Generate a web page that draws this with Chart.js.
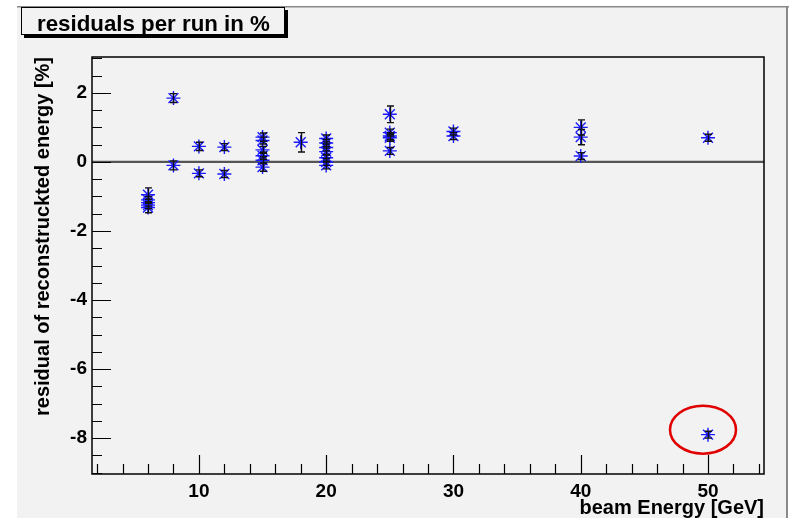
<!DOCTYPE html>
<html>
<head>
  <title>residuals per run in %</title>
  <script src="https://cdn.jsdelivr.net/npm/chart.js@4.4.0/dist/chart.umd.min.js"></script>
  <style>
    body { margin: 0; background: #fff; }
  </style>
</head>
<body>
<canvas id="myChart" width="793" height="518"></canvas>

<script>
  // one entry per run: beam energy [GeV], residual [%], error [%]
  const energies = [6, 6, 6, 6, 6, 8, 8, 10, 10, 12, 12,
                    15, 15, 15, 15, 15, 15, 18,
                    20, 20, 20, 20, 20, 20, 20,
                    25, 25, 25, 25, 25, 30, 30, 40, 40, 40, 50, 50];
  const residuals = [-0.95, -1.1, -1.18, -1.25, -1.32, 1.85, -0.1, 0.45, -0.33, 0.43, -0.35,
                     0.72, 0.62, 0.35, 0.18, 0.05, -0.15, 0.57,
                     0.68, 0.55, 0.42, 0.3, 0.12, 0.0, -0.1,
                     1.38, 0.85, 0.75, 0.7, 0.32, 0.88, 0.75, 1.0, 0.72, 0.17, 0.7, -7.9];
  const errors = [0.2, 0.1, 0.1, 0.1, 0.15, 0.13, 0.13, 0.12, 0.1, 0.1, 0.1,
                  0.12, 0.1, 0.1, 0.1, 0.1, 0.12, 0.28,
                  0.1, 0.1, 0.1, 0.1, 0.1, 0.1, 0.1,
                  0.24, 0.1, 0.1, 0.1, 0.1, 0.1, 0.1, 0.22, 0.22, 0.1, 0.1, 0.1];
  const xTicks = [10, 20, 30, 40, 50];
  const yTicks = [-8, -6, -4, -2, 0, 2];

  const FONT = 'Liberation Sans, Arial, Helvetica, sans-serif';

  // ROOT-like pad: grey canvas, frame, inward ticks, zero line, error bars, title pave
  const rootPad = {
    id: 'rootPad',
    beforeDraw(chart) {
      const c = chart.ctx;
      c.save();
      c.fillStyle = '#fff';
      c.fillRect(0, 0, chart.width, chart.height);
      c.fillStyle = '#f2f2f2';
      c.fillRect(17, 7, 770, 511);
      c.fillStyle = '#8a8a8a';
      c.fillRect(17, 6, 772, 1.5);
      c.fillRect(786, 6, 2, 512);

      // title pave with shadow
      c.fillStyle = '#000';
      c.fillRect(24, 10, 264, 28);
      c.fillStyle = '#f2f2f2';
      c.fillRect(21, 7, 264, 28);
      c.strokeStyle = '#000';
      c.lineWidth = 1;
      c.strokeRect(21.5, 7.5, 263, 27);
      c.fillStyle = '#000';
      c.font = 'bold 22.3px ' + FONT;
      c.textBaseline = 'alphabetic';
      c.fillText('residuals per run in %', 37, 31);
      c.restore();
    },
    beforeDatasetsDraw(chart) {
      const c = chart.ctx;
      const a = chart.chartArea;
      const xs = chart.scales.x, ys = chart.scales.y;
      c.save();
      // zero line
      c.strokeStyle = '#555';
      c.lineWidth = 2.2;
      c.beginPath();
      c.moveTo(a.left, ys.getPixelForValue(0));
      c.lineTo(a.right, ys.getPixelForValue(0));
      c.stroke();

      // ticks on left and bottom axes, pointing inward
      c.strokeStyle = '#000';
      c.lineWidth = 1.2;
      c.beginPath();
      for (let k = -18; k <= 6; k++) {
        const v = k * 0.5;
        const py = Math.round(ys.getPixelForValue(v)) + 0.5;
        if (py < a.top || py > a.bottom) continue;
        const len = (k % 4 === 0) ? 19 : 10;
        c.moveTo(a.left, py);
        c.lineTo(a.left + len, py);
      }
      for (let v = 2; v <= 54; v += 2) {
        const px = Math.round(xs.getPixelForValue(v)) + 0.5;
        const len = (v % 10 === 0) ? 19 : 10;
        c.moveTo(px, a.bottom);
        c.lineTo(px, a.bottom - len);
      }
      c.stroke();

      // frame
      c.lineWidth = 1.5;
      c.strokeRect(a.left, a.top, a.right - a.left, a.bottom - a.top);
      c.restore();
    },
    afterDatasetsDraw(chart) {
      const c = chart.ctx;
      const xs = chart.scales.x, ys = chart.scales.y;
      c.save();
      c.strokeStyle = '#111';
      c.lineWidth = 1.4;
      c.beginPath();
      energies.forEach((e, i) => {
        const px = Math.round(xs.getPixelForValue(e)) + 0.5;
        const top = ys.getPixelForValue(residuals[i] + errors[i]);
        const bot = ys.getPixelForValue(residuals[i] - errors[i]);
        c.moveTo(px, top); c.lineTo(px, bot);
        c.moveTo(px - 3.5, top); c.lineTo(px + 3.5, top);
        c.moveTo(px - 3.5, bot); c.lineTo(px + 3.5, bot);
      });
      c.stroke();

      // red ring around the outlier run
      let lo = 0;
      residuals.forEach((r, i) => { if (r < residuals[lo]) lo = i; });
      const cx = xs.getPixelForValue(energies[lo]) - 5;
      const cy = ys.getPixelForValue(residuals[lo]) - 5;
      c.strokeStyle = '#e00000';
      c.lineWidth = 2.5;
      c.beginPath();
      c.ellipse(cx, cy, 33, 24, 0, 0, Math.PI * 2);
      c.stroke();
      c.restore();
    }
  };

  new Chart(document.getElementById('myChart').getContext('2d'), {
    type: 'scatter',
    data: {
      datasets: [{
        data: energies.map((e, i) => ({ x: e, y: residuals[i] })),
        pointStyle: 'star',
        pointRadius: 7,
        pointBorderWidth: 1.4,
        pointBorderColor: '#1a1aff',
        pointBackgroundColor: '#1a1aff'
      }]
    },
    options: {
      responsive: false,
      animation: false,
      layout: { padding: { top: 57, right: 29, left: 0, bottom: 0 } },
      plugins: { legend: { display: false }, tooltip: { enabled: false } },
      scales: {
        x: {
          type: 'linear',
          min: 1.6,
          max: 54.4,
          afterBuildTicks: s => { s.ticks = xTicks.map(v => ({ value: v })); },
          afterFit: s => { s.height = 44; },
          grid: { display: false, drawTicks: false },
          border: { display: false },
          ticks: { padding: 6, color: '#000', font: { family: FONT, size: 19, weight: 'bold' } },
          title: {
            display: true, text: 'beam Energy [GeV]', align: 'end', color: '#000',
            padding: { top: 0, bottom: 0 },
            font: { family: FONT, size: 20, weight: 'bold', lineHeight: 1 }
          }
        },
        y: {
          type: 'linear',
          min: -9.04,
          max: 3.04,
          afterBuildTicks: s => { s.ticks = yTicks.map(v => ({ value: v })); },
          afterFit: s => { s.width = 92; },
          grid: { display: false, drawTicks: false },
          border: { display: false },
          ticks: { padding: 5, color: '#000', font: { family: FONT, size: 19, weight: 'bold' } },
          title: {
            display: true, text: 'residual of reconstruckted energy [%]', align: 'end', color: '#000',
            padding: { top: 31, bottom: 0 },
            font: { family: FONT, size: 20, weight: 'bold' }
          }
        }
      }
    },
    plugins: [rootPad]
  });
</script>
</body>
</html>
